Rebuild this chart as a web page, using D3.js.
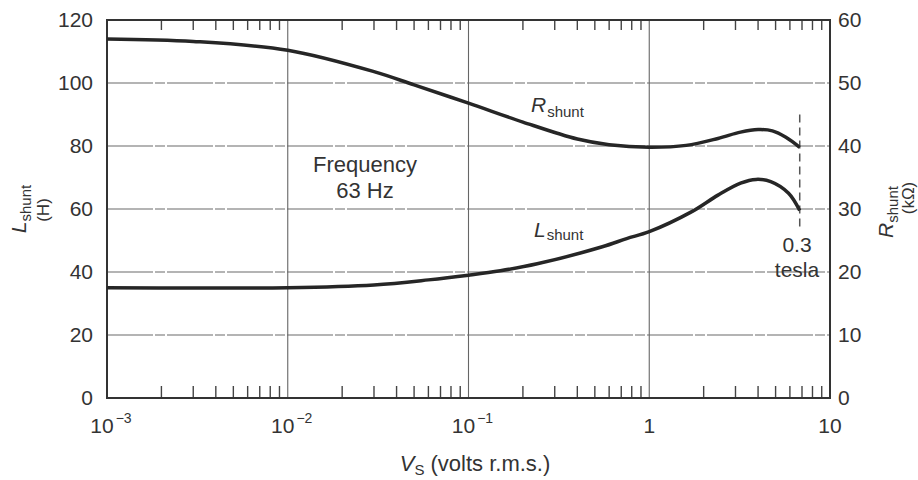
<!DOCTYPE html>
<html>
<head>
<meta charset="utf-8">
<script src="https://cdn.jsdelivr.net/npm/d3@7.9.0/dist/d3.min.js"></script>
<style>
  body { margin: 0; background: #fff; }
  svg { font-family: "Liberation Sans", Arial, sans-serif; fill: #333; }
</style>
</head>
<body>
<svg width="918" height="480"></svg>
<script>
// R_shunt (kOhm, right axis) against V_S (volts)
const rVolts = [0.001, 0.003, 0.01, 0.03, 0.05, 0.1, 0.2, 0.4, 0.6, 1, 1.6, 2.4, 3.2, 4, 4.8, 5.7, 6.8];
const rValues = [57.0, 56.6, 55.2, 51.8, 49.7, 46.8, 43.8, 41.1, 40.2, 39.8, 40.1, 41.2, 42.2, 42.6, 42.4, 41.4, 39.8];

// L_shunt (H, left axis) against V_S (volts)
const lVolts = [0.001, 0.003, 0.01, 0.03, 0.06, 0.1, 0.15, 0.24, 0.55, 0.75, 1, 1.7, 2.4, 3.2, 3.9, 4.7, 5.9, 6.8];
const lValues = [35.0, 34.9, 35.0, 35.9, 37.5, 39.0, 40.4, 42.6, 48.0, 50.6, 52.8, 59.0, 64.4, 68.2, 69.4, 68.7, 65.0, 59.5];

const xDecades = [0.001, 0.01, 0.1, 1, 10];
const xTickLabels = [['10', '−3'], ['10', '−2'], ['10', '−1'], ['1', ''], ['10', '']];
const leftTicks = [0, 20, 40, 60, 80, 100, 120];
const rightTicks = [0, 10, 20, 30, 40, 50, 60];
const teslaV = 6.8;
const teslaSpan = [54, 90]; // dashed marker, in left-axis units

const svg = d3.select('svg');
const pLeft = 107, pRight = 830, pTop = 20, pBottom = 398;

const x = d3.scaleLog().domain([0.001, 10]).range([pLeft, pRight]);
const yL = d3.scaleLinear().domain([0, 120]).range([pBottom, pTop]);
const yR = d3.scaleLinear().domain([0, 60]).range([pBottom, pTop]);

// grid
svg.append('g').selectAll('line')
  .data(leftTicks.slice(1, -1))
  .join('line')
  .attr('x1', pLeft).attr('x2', pRight)
  .attr('y1', d => yL(d)).attr('y2', d => yL(d))
  .attr('stroke', '#6a6a6a').attr('stroke-width', 1.1)
  .attr('stroke-dasharray', '46,2,10,2');

svg.append('g').selectAll('line')
  .data(xDecades.slice(1, -1))
  .join('line')
  .attr('x1', d => x(d)).attr('x2', d => x(d))
  .attr('y1', pTop).attr('y2', pBottom)
  .attr('stroke', '#666').attr('stroke-width', 1.1);

// minor ticks top and bottom
let minors = [];
xDecades.slice(0, -1).forEach(d => {
  for (let k = 2; k <= 9; k++) minors.push(d * k);
});
const ticksG = svg.append('g').attr('stroke', '#444').attr('stroke-width', 1.4);
ticksG.selectAll('line.b').data(minors).join('line')
  .attr('class', 'b')
  .attr('x1', d => x(d)).attr('x2', d => x(d))
  .attr('y1', pBottom).attr('y2', pBottom - 12);
ticksG.selectAll('line.t').data(minors).join('line')
  .attr('class', 't')
  .attr('x1', d => x(d)).attr('x2', d => x(d))
  .attr('y1', pTop).attr('y2', pTop + 10);

// frame
svg.append('rect')
  .attr('x', pLeft).attr('y', pTop)
  .attr('width', pRight - pLeft).attr('height', pBottom - pTop)
  .attr('fill', 'none').attr('stroke', '#333').attr('stroke-width', 2);

// tesla marker
svg.append('line')
  .attr('x1', x(teslaV)).attr('x2', x(teslaV))
  .attr('y1', yL(teslaSpan[1])).attr('y2', yL(teslaSpan[0]))
  .attr('stroke', '#555').attr('stroke-width', 1.5)
  .attr('stroke-dasharray', '8,5');

// curves
const line = d3.line().curve(d3.curveCatmullRom.alpha(0.5));
svg.append('path')
  .attr('d', line(rVolts.map((v, i) => [x(v), yR(rValues[i])])))
  .attr('fill', 'none').attr('stroke', '#262626').attr('stroke-width', 3.5);
svg.append('path')
  .attr('d', line(lVolts.map((v, i) => [x(v), yL(lValues[i])])))
  .attr('fill', 'none').attr('stroke', '#262626').attr('stroke-width', 3.5);

// tick labels
svg.append('g').selectAll('text').data(leftTicks).join('text')
  .attr('x', 93).attr('y', d => yL(d) + 7)
  .attr('text-anchor', 'end').attr('font-size', 21)
  .text(d => d);
svg.append('g').selectAll('text').data(rightTicks).join('text')
  .attr('x', 838).attr('y', d => yR(d) + 7)
  .attr('font-size', 21)
  .text(d => d);

const xl = svg.append('g').selectAll('text').data(xDecades).join('text')
  .attr('x', (d, i) => x(d) + (xTickLabels[i][1] ? 4 : 0)).attr('y', 433)
  .attr('text-anchor', 'middle').attr('font-size', 21);
xl.append('tspan').text((d, i) => xTickLabels[i][0]);
xl.append('tspan').attr('font-size', 14).attr('dy', -10).attr('dx', 2)
  .text((d, i) => xTickLabels[i][1]);

// axis titles
const xt = svg.append('text').attr('x', 475).attr('y', 471)
  .attr('text-anchor', 'middle').attr('font-size', 22);
xt.append('tspan').attr('font-style', 'italic').text('V');
xt.append('tspan').attr('font-size', 15).attr('dy', 4).text('S');
xt.append('tspan').attr('dy', -4).text(' (volts r.m.s.)');

const lt = svg.append('text').attr('transform', 'translate(26,209) rotate(-90)')
  .attr('text-anchor', 'middle').attr('font-size', 21);
lt.append('tspan').attr('font-style', 'italic').text('L');
lt.append('tspan').attr('font-size', 15).attr('dy', 5).text('shunt');
svg.append('text').attr('transform', 'translate(49,210) rotate(-90)')
  .attr('text-anchor', 'middle').attr('font-size', 17).text('(H)');

const rt = svg.append('text').attr('transform', 'translate(893,212) rotate(-90)')
  .attr('text-anchor', 'middle').attr('font-size', 21);
rt.append('tspan').attr('font-style', 'italic').text('R');
rt.append('tspan').attr('font-size', 15).attr('dy', 5).text('shunt');
svg.append('text').attr('transform', 'translate(914,198) rotate(-90)')
  .attr('text-anchor', 'middle').attr('font-size', 17).text('(kΩ)');

// in-plot labels
const rl = svg.append('text').attr('x', 531).attr('y', 112).attr('font-size', 21);
rl.append('tspan').attr('font-style', 'italic').text('R');
rl.append('tspan').attr('font-size', 15).attr('dy', 5).attr('dx', 1).text('shunt');

const ll = svg.append('text').attr('x', 534).attr('y', 237).attr('font-size', 21);
ll.append('tspan').attr('font-style', 'italic').text('L');
ll.append('tspan').attr('font-size', 15).attr('dy', 3).attr('dx', 1).text('shunt');

svg.append('text').attr('x', 365).attr('y', 172).attr('text-anchor', 'middle')
  .attr('font-size', 22).text('Frequency');
svg.append('text').attr('x', 365).attr('y', 198).attr('text-anchor', 'middle')
  .attr('font-size', 22).text('63 Hz');

svg.append('text').attr('x', 797).attr('y', 252).attr('text-anchor', 'middle')
  .attr('font-size', 21).text('0.3');
svg.append('text').attr('x', 797).attr('y', 277).attr('text-anchor', 'middle')
  .attr('font-size', 21).text('tesla');
</script>
</body>
</html>
